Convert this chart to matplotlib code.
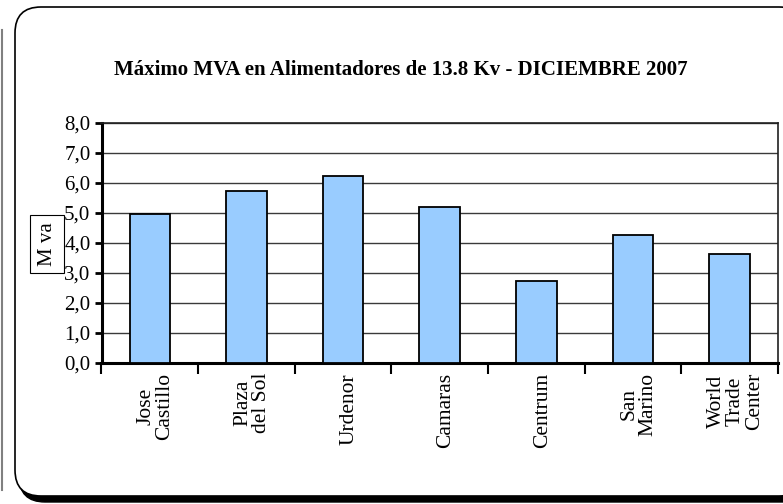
import matplotlib
matplotlib.use("Agg")
import matplotlib.pyplot as plt
from matplotlib.patches import FancyBboxPatch
import numpy as np

# Feeder data (maximum MVA, December 2007)
feeders = ["Jose\nCastillo", "Plaza\ndel Sol", "Urdenor", "Camaras",
           "Centrum", "San\nMarino", "World\nTrade\nCenter"]
max_mva = [4.98, 5.75, 6.25, 5.2, 2.73, 4.28, 3.64]
y_ticks = [0, 1, 2, 3, 4, 5, 6, 7, 8]
y_tick_labels = ["0,0", "1,0", "2,0", "3,0", "4,0", "5,0", "6,0", "7,0", "8,0"]
title = "Máximo MVA en Alimentadores de 13.8 Kv - DICIEMBRE 2007"
y_label = "M va"

W, H, DPI = 783, 504, 100
plt.rcParams["font.family"] = ["Liberation Serif", "DejaVu Serif"]

fig = plt.figure(figsize=(W / DPI, H / DPI), dpi=DPI)
fig.patch.set_facecolor("white")

def fx(px):
    return px / W

def fy(py):
    return 1 - py / H

# background layer in pixel units for the chart frame
bg = fig.add_axes([0, 0, 1, 1], zorder=-5)
bg.set_xlim(0, W)
bg.set_ylim(H, 0)
bg.axis("off")

# faint vertical rule at the far left edge
bg.plot([2, 2], [30, 490], color="#808080", lw=1.5)

# rounded chart frame with drop shadow
x0, y0, x1, y1 = 15, 7, 805, 496
bg.add_patch(FancyBboxPatch((x0 + 4, y0 + 6), x1 - x0, y1 - y0,
                            boxstyle="round,pad=0,rounding_size=26",
                            facecolor="black", edgecolor="black", lw=1,
                            clip_on=False))
bg.add_patch(FancyBboxPatch((x0, y0), x1 - x0, y1 - y0,
                            boxstyle="round,pad=0,rounding_size=26",
                            facecolor="white", edgecolor="black", lw=1.2,
                            clip_on=False))

# plot area
left, right, top, bottom = 101.5, 778, 123, 363
ax = fig.add_axes([fx(left), fy(bottom), fx(right - left), (bottom - top) / H])
ax.set_facecolor("white")

x = np.arange(len(feeders))
ax.bar(x, max_mva, width=0.42, color="#99CCFF", edgecolor="black",
       linewidth=1.3, zorder=3)

ax.set_xlim(-0.5, len(feeders) - 0.5)
ax.set_ylim(0, 8)
ax.set_yticks(y_ticks)
ax.set_yticklabels(y_tick_labels, fontsize=15)
ax.yaxis.grid(True, color="#3a3a3a", lw=1.0, zorder=1)
ax.set_axisbelow(True)

ax.set_xticks(x)
ax.set_xticklabels([])
ax.tick_params(axis="x", which="major", length=0)
ax.set_xticks(np.arange(-0.5, len(feeders), 1.0), minor=True)
ax.tick_params(axis="x", which="minor", length=8, width=1.5, direction="out")
ax.tick_params(axis="y", length=5, width=2, direction="out", pad=3)

for s in ("left", "bottom"):
    ax.spines[s].set_linewidth(2.2)
for s in ("top", "right"):
    ax.spines[s].set_linewidth(1.2)
    ax.spines[s].set_color("#202020")

for xi, name in zip(x, feeders):
    ax.text(xi + 0.06, -0.33, name, rotation=90, ha="center", va="top",
            multialignment="center", fontsize=15.5, linespacing=1.0,
            transform=ax.transData)

# title
fig.text(fx(401), fy(70), title, ha="center", va="center",
         fontsize=15, fontweight="bold")

# y-axis label in a box
fig.text(fx(47), fy(244), y_label, rotation=90, ha="center", va="center",
         fontsize=15,
         bbox=dict(boxstyle="square,pad=0.35", facecolor="white",
                   edgecolor="black", lw=0.8))

fig.savefig("out.png", dpi=DPI, facecolor="white")
